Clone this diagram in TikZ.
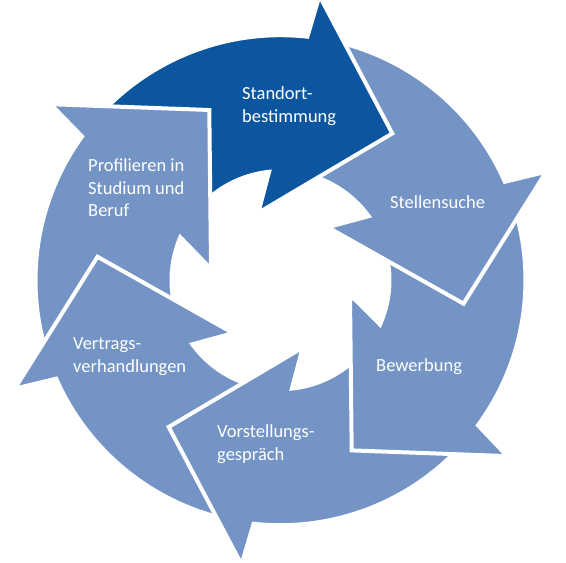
\documentclass[tikz,border=0pt]{standalone}
\usepackage{fontspec}
\setmainfont{Carlito}
\definecolor{darkblue}{RGB}{12,86,160}
\definecolor{lightblue}{RGB}{115,148,197}
\begin{document}
\begin{tikzpicture}[x=1pt,y=1pt,
  seg/.style={draw=white,line width=4pt,line join=miter},
  headedge/.style={draw=white,line width=4pt,line join=miter},
  lbl/.style={text=white,font=\fontsize{18.5}{22.5}\selectfont,align=left,inner sep=0pt,anchor=west}]
\useasboundingbox (-280.5,-282.8) rectangle (285.5,280.2);
% arrows, drawn so that each head lies over the tail of the next one
\foreach \a/\c in {112.7/lightblue, 172.7/lightblue, -127.3/lightblue, -67.3/lightblue, -7.3/lightblue, 52.7/darkblue}{
  \pgfmathsetmacro\ta{\a+88}
  \pgfmathsetmacro\tb{\a+31}
  \pgfmathsetmacro\tc{\a+43.3}
  \pgfmathsetmacro\tob{\a+29.5}
  \pgfmathsetmacro\tib{\a+55.5}
  \path[seg,fill=\c] (\ta:245) arc[start angle=\ta,end angle=\tb,radius=245]
     -- (\tob:287) -- (\a:184.5) -- (\tib:71) -- (\tc:109)
     arc[start angle=\tc,end angle=\ta,radius=109] -- cycle;
}
% head of the last arrow over the tail of the first
\fill[lightblue] (142.2:287) -- (112.7:184.5) -- (168.2:71) -- cycle;
\path[headedge] (142.2:287) -- (112.7:184.5) -- (168.2:71);
% labels
\node[lbl] (standort) at (-38.5,174.2) {Standort-\\bestimmung};
\node[lbl] (stellen) at (109.5,78.2) {Stellensuche};
\node[lbl] (bewerb) at (95.5,-86.8) {Bewerbung};
\node[lbl] (vorst) at (-63.5,-163.8) {Vorstellungs-\\gespräch};
\node[lbl] (vertrag) at (-207.5,-76.3) {Vertrags-\\verhandlungen};
\node[lbl] (profil) at (-192.5,92.2) {Profilieren in\\Studium und\\Beruf};
\end{tikzpicture}
\end{document}
